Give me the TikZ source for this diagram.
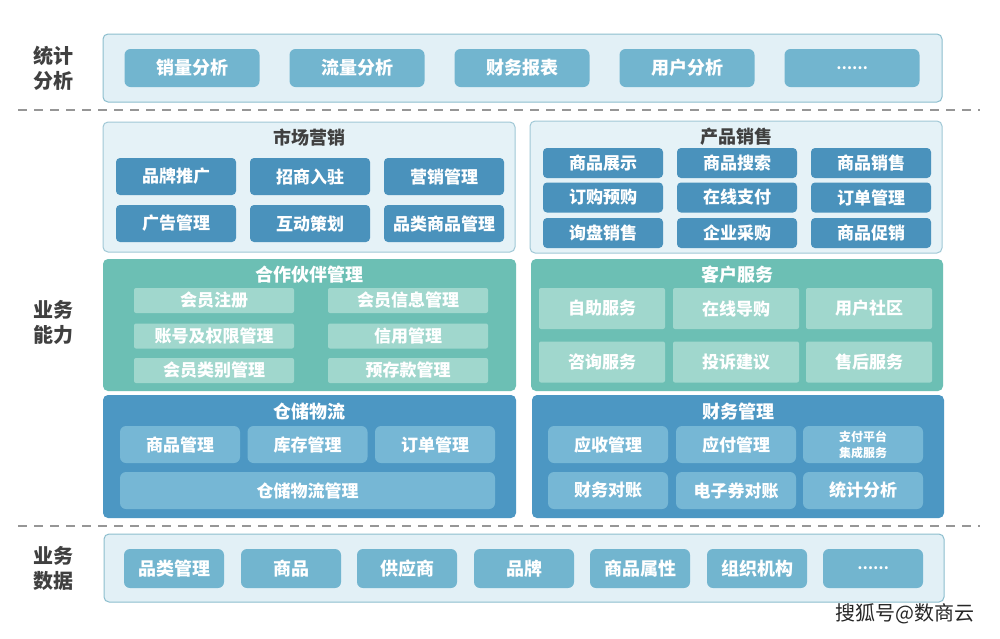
\documentclass[tikz,border=0pt]{standalone}
\usepackage{fontspec}
\setmainfont{Noto Sans CJK SC}
\usepackage{xcolor}
\usepackage{tikz}
\usetikzlibrary{positioning}
\definecolor{labelgray}{RGB}{64,64,64}
\definecolor{statfill}{RGB}{226,240,246}
\definecolor{statline}{RGB}{140,190,206}
\definecolor{statbtnfill}{RGB}{114,181,207}
\definecolor{mktfill}{RGB}{229,242,247}
\definecolor{mktline}{RGB}{160,200,214}
\definecolor{mktbtnfill}{RGB}{74,146,188}
\definecolor{tealfill}{RGB}{108,191,180}
\definecolor{tealbtnfill}{RGB}{160,215,205}
\definecolor{bluefill}{RGB}{76,151,195}
\definecolor{bluebtnfill}{RGB}{118,183,213}
\definecolor{sepgray}{RGB}{150,150,150}
\newfontfamily\heavycjk{Noto Sans CJK SC Black}
\newcommand{\fs}[1]{\heavycjk\fontsize{#1}{#1}\selectfont}
\tikzset{
  sidelabel/.style={font=\heavycjk\fontsize{20}{25}\selectfont,text=labelgray,align=center,inner sep=0pt},
  layerbox/.style={draw=statline,fill=statfill,rounded corners=5pt,line width=1pt,inner sep=0pt},
  layerbtn/.style={fill=statbtnfill,rounded corners=6pt,text=white,font=\fs{18},inner sep=0pt,minimum height=38pt},
  mktbox/.style={draw=mktline,fill=mktfill,rounded corners=5pt,line width=1pt,inner sep=0pt,minimum width=412pt},
  mktbtn/.style={fill=mktbtnfill,rounded corners=4pt,text=white,font=\fs{17},inner sep=0pt,minimum width=120pt},
  tealbox/.style={fill=tealfill,rounded corners=5pt,inner sep=0pt,minimum width=413pt,minimum height=132pt},
  tealbtn/.style={fill=tealbtnfill,rounded corners=2pt,text=white,font=\fs{17},inner sep=0pt},
  bluebox/.style={fill=bluefill,rounded corners=5pt,inner sep=0pt,minimum width=413pt,minimum height=123pt},
  bluebtn/.style={fill=bluebtnfill,rounded corners=6pt,text=white,font=\fs{17},inner sep=0pt,minimum height=37pt},
  boxtitle/.style={font=\fs{18},inner sep=0pt},
  sepline/.style={dashed,dash pattern=on 9pt off 7pt,line width=1.2pt,draw=sepgray},
}
\begin{document}
\begin{tikzpicture}[x=1pt,y=-1pt]
  \useasboundingbox[fill=white] (0,0) rectangle (1000,638);
  \node[sidelabel] (lstat) at (53,68) {统计\\分析};
  \node[layerbox,minimum width=839pt,minimum height=68pt] (stat) at (522.5,68) {};
  \node[layerbtn,minimum width=135pt] (stat1) at (192,68) {销量分析};
  \node[layerbtn,minimum width=135pt] (stat2) at (357,68) {流量分析};
  \node[layerbtn,minimum width=135pt] (stat3) at (522,68) {财务报表};
  \node[layerbtn,minimum width=135pt] (stat4) at (687,68) {用户分析};
  \node[layerbtn,minimum width=135pt] (stat5) at (852,68) {\fs{14}……};
  \draw[sepline] (18,110) -- (980,110);

  \node[sidelabel] (lbiz) at (53,322) {业务\\能力};

  \node[mktbox,minimum height=130pt] (mkt) at (309,187) {};
  \node[boxtitle,text=labelgray] (mkttitle) at (309,138) {市场营销};
  \node[mktbtn,minimum height=37pt] (mkt1) at (176,176.5) {品牌推广};
  \node[mktbtn,minimum height=37pt] (mkt2) at (310,176.5) {招商入驻};
  \node[mktbtn,minimum height=37pt] (mkt3) at (444,176.5) {营销管理};
  \node[mktbtn,minimum height=37pt] (mkt4) at (176,223.5) {广告管理};
  \node[mktbtn,minimum height=37pt] (mkt5) at (310,223.5) {互动策划};
  \node[mktbtn,minimum height=37pt] (mkt6) at (444,223.5) {品类商品管理};

  \node[mktbox,minimum height=132pt] (sale) at (736,187) {};
  \node[boxtitle,text=labelgray] (saletitle) at (736,137) {产品销售};
  \node[mktbtn,minimum height=30pt] (sale1) at (603,163) {商品展示};
  \node[mktbtn,minimum height=30pt] (sale2) at (737,163) {商品搜索};
  \node[mktbtn,minimum height=30pt] (sale3) at (871,163) {商品销售};
  \node[mktbtn,minimum height=30pt] (sale4) at (603,197.5) {订购预购};
  \node[mktbtn,minimum height=30pt] (sale5) at (737,197.5) {在线支付};
  \node[mktbtn,minimum height=30pt] (sale6) at (871,197.5) {订单管理};
  \node[mktbtn,minimum height=30pt] (sale7) at (603,233) {询盘销售};
  \node[mktbtn,minimum height=30pt] (sale8) at (737,233) {企业采购};
  \node[mktbtn,minimum height=30pt] (sale9) at (871,233) {商品促销};

  \node[tealbox] (part) at (309.5,325) {};
  \node[boxtitle,text=white] (parttitle) at (309.5,275) {合作伙伴管理};
  \node[tealbtn,minimum width=160pt,minimum height=25pt] (part1) at (214,300.5) {会员注册};
  \node[tealbtn,minimum width=160pt,minimum height=25pt] (part2) at (408,300.5) {会员信息管理};
  \node[tealbtn,minimum width=160pt,minimum height=25pt] (part3) at (214,336) {账号及权限管理};
  \node[tealbtn,minimum width=160pt,minimum height=25pt] (part4) at (408,336) {信用管理};
  \node[tealbtn,minimum width=160pt,minimum height=25pt] (part5) at (214,370.5) {会员类别管理};
  \node[tealbtn,minimum width=160pt,minimum height=25pt] (part6) at (408,370.5) {预存款管理};

  \node[tealbox,minimum width=412pt] (serv) at (737,325) {};
  \node[boxtitle,text=white] (servtitle) at (737,275) {客户服务};
  \node[tealbtn,minimum width=126pt,minimum height=41pt] (serv1) at (602,308.5) {自助服务};
  \node[tealbtn,minimum width=126pt,minimum height=41pt] (serv2) at (736,308.5) {在线导购};
  \node[tealbtn,minimum width=126pt,minimum height=41pt] (serv3) at (869,308.5) {用户社区};
  \node[tealbtn,minimum width=126pt,minimum height=41pt] (serv4) at (602,362) {咨询服务};
  \node[tealbtn,minimum width=126pt,minimum height=41pt] (serv5) at (736,362) {投诉建议};
  \node[tealbtn,minimum width=126pt,minimum height=41pt] (serv6) at (869,362) {售后服务};

  \node[bluebox] (logi) at (309.5,456.5) {};
  \node[boxtitle,text=white] (logititle) at (309.5,412) {仓储物流};
  \node[bluebtn,minimum width=120pt] (logi1) at (180,444.5) {商品管理};
  \node[bluebtn,minimum width=120pt] (logi2) at (307.5,444.5) {库存管理};
  \node[bluebtn,minimum width=120pt] (logi3) at (435,444.5) {订单管理};
  \node[bluebtn,minimum width=375pt] (logi4) at (307.5,490.5) {仓储物流管理};

  \node[bluebox,minimum width=412pt] (fin) at (738,456.5) {};
  \node[boxtitle,text=white] (fintitle) at (738,412) {财务管理};
  \node[bluebtn,minimum width=120pt] (fin1) at (608,444.5) {应收管理};
  \node[bluebtn,minimum width=120pt] (fin2) at (736,444.5) {应付管理};
  \node[bluebtn,minimum width=120pt,align=center,font=\heavycjk\fontsize{12}{16}\selectfont] (fin3) at (863,444.5) {支付平台\\集成服务};
  \node[bluebtn,minimum width=120pt] (fin4) at (608,490.5) {财务对账};
  \node[bluebtn,minimum width=120pt] (fin5) at (736,490.5) {电子券对账};
  \node[bluebtn,minimum width=120pt] (fin6) at (863,490.5) {统计分析};
  \draw[sepline] (18,526) -- (980,526);

  \node[sidelabel] (ldata) at (53,568) {业务\\数据};
  \node[layerbox,minimum width=840pt,minimum height=68pt] (data) at (524,568) {};
  \node[layerbtn,minimum width=100pt,minimum height=39pt] (data1) at (174,568.5) {品类管理};
  \node[layerbtn,minimum width=100pt,minimum height=39pt] (data2) at (291,568.5) {商品};
  \node[layerbtn,minimum width=100pt,minimum height=39pt] (data3) at (407,568.5) {供应商};
  \node[layerbtn,minimum width=100pt,minimum height=39pt] (data4) at (524,568.5) {品牌};
  \node[layerbtn,minimum width=100pt,minimum height=39pt] (data5) at (640,568.5) {商品属性};
  \node[layerbtn,minimum width=100pt,minimum height=39pt] (data6) at (757,568.5) {组织机构};
  \node[layerbtn,minimum width=100pt,minimum height=39pt] (data7) at (873,568.5) {\fs{14}……};

  \node[font=\fontsize{20}{20}\selectfont,text=black!85,inner sep=0pt] (mark) at (905,614) {搜狐号@数商云};
\end{tikzpicture}
\end{document}
